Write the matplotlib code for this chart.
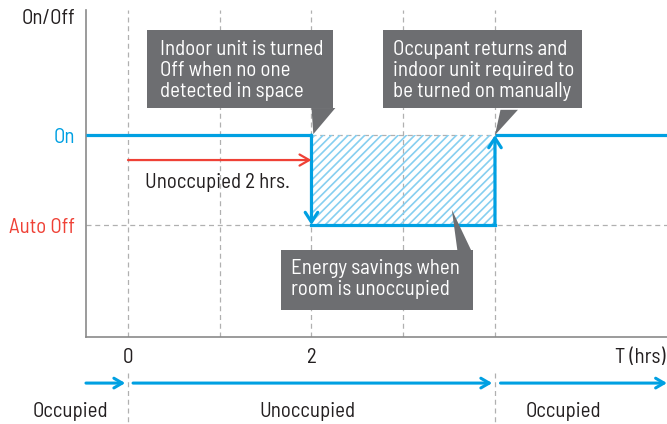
import matplotlib
matplotlib.use("Agg")
import matplotlib.pyplot as plt
from matplotlib.patches import Rectangle, Polygon

plt.rcParams['font.family'] = ['Barlow Semi Condensed', 'DejaVu Sans']
plt.rcParams['hatch.linewidth'] = 1.2

BLUE = '#00a0e2'
RED = '#ef4136'
GRAY = '#6d6e71'
TXT = '#231f20'
GRID = '#b0b0b0'

# operating state over time (hours); 1 = On, 0 = Auto Off
off_time = 2
on_time = 4
state_levels = [0, 1]
state_labels = ['Auto Off', 'On']
grid_hours = [0, 1, 2, 3, 4]
tick_hours = [0, 2]
tick_labels = ['0', '2']

# occupancy phases along the bottom timeline
phase_names = ['Occupied', 'Unoccupied', 'Occupied']
phase_centers = [-0.63, 1.96, 4.75]

callouts = [
    "Indoor unit is turned\nOff when no one\ndetected in space",
    "Occupant returns and\nindoor unit required to\nbe turned on manually",
    "Energy savings when\nroom is unoccupied",
]

fig = plt.figure(figsize=(6.67, 4.24), dpi=100)
ax = fig.add_axes([0.1289, 0.2052, 0.8711, 0.7712])
x0, x1 = -0.458, 5.875
ax.set_xlim(x0, x1)
ax.set_ylim(-1.244, 2.389)

for s in ['top', 'right']:
    ax.spines[s].set_visible(False)
for s in ['left', 'bottom']:
    ax.spines[s].set_color('#8a8a8a')
    ax.spines[s].set_linewidth(1.2)

dash = dict(color=GRID, lw=0.9, dashes=(4, 3))
for h in grid_hours:
    ax.axvline(h, zorder=1, **dash)
ax.axhline(0, zorder=1, **dash)
ax.plot([off_time, on_time], [1, 1], zorder=1, **dash)

# saved energy area
ax.fill_between([off_time, on_time], 0, 1, facecolor='none', edgecolor='#86cff0',
                hatch='////', linewidth=0, zorder=2)

# unit state line
lw = 2.3
ax.plot([x0, off_time], [1, 1], color=BLUE, lw=lw, solid_capstyle='butt', zorder=4)
ax.plot([off_time, on_time], [0, 0], color=BLUE, lw=lw, solid_capstyle='projecting', zorder=4)
ax.plot([on_time, x1], [1, 1], color=BLUE, lw=lw, solid_capstyle='butt', zorder=4)
head = '->,head_length=0.7,head_width=0.45'
ax.annotate('', xy=(off_time, 0), xytext=(off_time, 1),
            arrowprops=dict(arrowstyle=head, color=BLUE, lw=lw, shrinkA=0, shrinkB=0), zorder=5)
ax.annotate('', xy=(on_time, 1), xytext=(on_time, 0),
            arrowprops=dict(arrowstyle=head, color=BLUE, lw=lw, shrinkA=0, shrinkB=0), zorder=5)

# unoccupied duration
ax.annotate('', xy=(off_time, 0.722), xytext=(0, 0.722),
            arrowprops=dict(arrowstyle='->,head_length=0.7,head_width=0.4', color=RED, lw=1.6,
                            shrinkA=0, shrinkB=0), zorder=5)
FS = 15
ax.text(0.185, 0.478, 'Unoccupied 2 hrs.', fontsize=FS, color=TXT, va='center', ha='left')

# axis ticks
ax.set_yticks(state_levels)
ax.set_yticklabels(state_labels, fontsize=FS)
for lab, c in zip(ax.get_yticklabels(), [RED, BLUE]):
    lab.set_color(c)
ax.set_xticks(tick_hours)
ax.set_xticklabels(tick_labels, fontsize=FS, color=TXT)
ax.tick_params(axis='both', length=0)
ax.tick_params(axis='y', pad=8)
ax.tick_params(axis='x', pad=8)
ax.text(-0.578, 2.3, 'On/Off', fontsize=FS, color=TXT, ha='right', va='center', clip_on=False)
ax.text(5.862, -1.467, 'T (hrs)', fontsize=FS, color=TXT, ha='right', va='center', clip_on=False)

# callout boxes
boxes = [
    ((0.207, 1.30), 2.027, 0.867, [(2.0, 1.30), (2.26, 1.30), (2.02, 1.01)]),
    ((2.779, 1.30), 2.169, 0.867, [(4.06, 1.28), (4.25, 1.28), (4.0, 1.0)]),
    ((1.668, -0.944), 2.092, 0.666, [(3.53, 0.17), (3.59, -0.28), (3.74, -0.28)]),
]
text_pos = [(0.349, 1.955), (2.888, 1.955), (1.777, -0.48)]
for (xy, w, h, tri), (tx, ty), msg in zip(boxes, text_pos, callouts):
    ax.add_patch(Rectangle(xy, w, h, facecolor=GRAY, edgecolor='none', zorder=6, clip_on=False))
    ax.add_patch(Polygon(tri, closed=True, facecolor=GRAY, edgecolor='none', zorder=6))
    n = msg.count('\n')
    # ty is the centre of the first line
    ax.text(tx, ty - n * 0.12, msg, fontsize=FS, color='white', ha='left', va='center',
            linespacing=1.15, zorder=7, clip_on=False)

# occupancy timeline below the axis
ty = -1.756
tl = dict(arrowstyle='->,head_length=0.6,head_width=0.35', color=BLUE, lw=2.2,
          shrinkA=0, shrinkB=0)
for a, b in [(x0, -0.03), (0.055, 3.97), (4.06, x1)]:
    ax.annotate('', xy=(b, ty), xytext=(a, ty), arrowprops=tl, annotation_clip=False)
for h in [grid_hours[0], grid_hours[-1]]:
    ax.plot([h, h], [-1.644, -2.25], clip_on=False, **dash)
for name, cx in zip(phase_names, phase_centers):
    ax.text(cx, -2.067, name, fontsize=FS, color=TXT, ha='center', va='center', clip_on=False)

fig.savefig('out.png', dpi=100)
